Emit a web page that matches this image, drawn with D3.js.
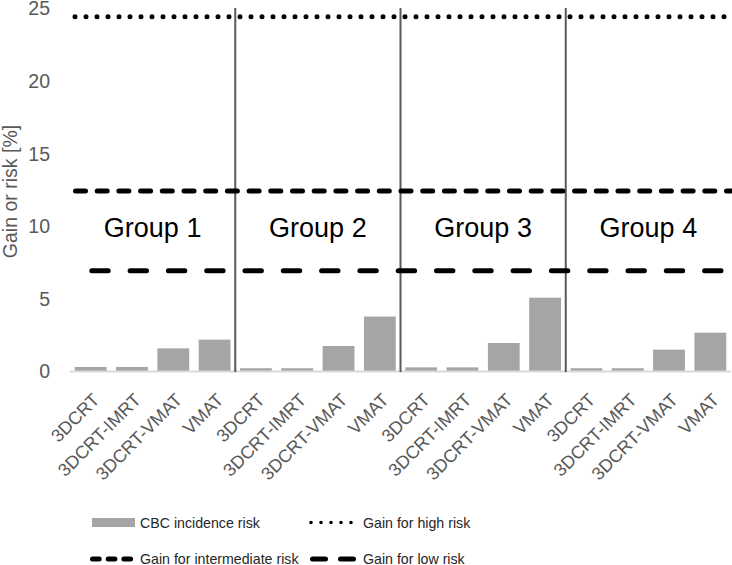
<!DOCTYPE html>
<html>
<head>
<meta charset="utf-8">
<script src="https://cdn.jsdelivr.net/npm/d3@7/dist/d3.min.js"></script>
<style>
  html, body { margin: 0; padding: 0; background: #fff; }
  svg { display: block; }
</style>
</head>
<body>
<svg id="chart" width="732" height="565"></svg>
<script>
// ---- data ----
const groups = ["Group 1", "Group 2", "Group 3", "Group 4"];
const techniques = ["3DCRT", "3DCRT-IMRT", "3DCRT-VMAT", "VMAT"];
const cbcGroup1 = [0.28, 0.28, 1.56, 2.16];
const cbcGroup2 = [0.19, 0.19, 1.72, 3.75];
const cbcGroup3 = [0.25, 0.25, 1.93, 5.05];
const cbcGroup4 = [0.19, 0.19, 1.47, 2.64];
const gainHigh = 24.4;
const gainIntermediate = 12.4;
const gainLow = 6.9;
const yTicks = [0, 5, 10, 15, 20, 25];
const legendLabels = ["CBC incidence risk", "Gain for high risk", "Gain for intermediate risk", "Gain for low risk"];

const cbcAll = [cbcGroup1, cbcGroup2, cbcGroup3, cbcGroup4];
const rows = [];
groups.forEach((g, gi) => techniques.forEach((t, ti) => rows.push({ key: g + "|" + t, group: g, tech: t, value: cbcAll[gi][ti] })));

// ---- layout ----
const svg = d3.select("#chart");
const plotLeft = 70, plotRight = 731, plotTop = 8, plotBottom = 371;

const x = d3.scaleBand().domain(rows.map(d => d.key)).range([plotLeft, plotRight]).paddingInner(0.23).paddingOuter(0.115);
const gx = d3.scaleBand().domain(groups).range([plotLeft, plotRight]);
const y = d3.scaleLinear().domain([0, 25]).range([plotBottom, plotTop]);

const grey = "#595959";
const font = "'Liberation Sans', Arial, sans-serif";

// y tick labels (no axis line)
const yAxis = d3.axisLeft(y).tickValues(yTicks).tickSize(0).tickPadding(0).tickFormat(d3.format("d"));
const yg = svg.append("g").attr("transform", "translate(50,0)").call(yAxis);
yg.select(".domain").remove();
yg.selectAll("text").attr("fill", grey).attr("font-family", font).attr("font-size", 19.5).attr("dy", "0.35em");

// y axis title
svg.append("text")
  .attr("transform", `translate(17,${(y(0) + y(25)) / 2 + 2}) rotate(-90)`)
  .attr("text-anchor", "middle")
  .attr("fill", grey)
  .attr("font-family", font)
  .attr("font-size", 19.5)
  .text("Gain or risk [%]");

// bars
svg.append("g").selectAll("rect").data(rows).join("rect")
  .attr("x", d => x(d.key))
  .attr("width", x.bandwidth())
  .attr("y", d => y(d.value))
  .attr("height", d => y(0) - y(d.value))
  .attr("fill", "#a5a5a5");

// baseline
svg.append("line").attr("x1", plotLeft).attr("x2", plotRight).attr("y1", y(0) + 0.5).attr("y2", y(0) + 0.5)
  .attr("stroke", "#d9d9d9").attr("stroke-width", 2);

// x tick labels
svg.append("g").selectAll("text").data(rows).join("text")
  .attr("transform", d => `translate(${x(d.key) + x.bandwidth() / 2 + 10},${y(0) + 30}) rotate(-45)`)
  .attr("text-anchor", "end")
  .attr("fill", grey)
  .attr("font-family", font)
  .attr("font-size", 18)
  .text(d => d.tech);

// group dividers
svg.append("g").selectAll("line").data(groups.slice(1)).join("line")
  .attr("x1", d => gx(d)).attr("x2", d => gx(d))
  .attr("y1", y(25)).attr("y2", y(0) + 1)
  .attr("stroke", grey).attr("stroke-width", 2);

// reference lines
const refLines = [
  { v: gainHigh, dash: "0 11", offset: 6, w: 5 },
  { v: gainIntermediate, dash: "10 11.7", offset: 16.2, w: 5 },
  { v: gainLow, dash: "16.4 21.9", offset: 16.5, w: 5 }
];
svg.append("g").selectAll("line").data(refLines).join("line")
  .attr("x1", plotLeft).attr("x2", plotRight)
  .attr("y1", d => y(d.v)).attr("y2", d => y(d.v))
  .attr("stroke", "#000").attr("stroke-width", d => d.w)
  .attr("stroke-linecap", "round")
  .attr("stroke-dasharray", d => d.dash)
  .attr("stroke-dashoffset", d => d.offset);

// group labels
svg.append("g").selectAll("text").data(groups).join("text")
  .attr("x", d => gx(d) + gx.bandwidth() / 2)
  .attr("y", y(9.25))
  .attr("text-anchor", "middle")
  .attr("fill", "#000")
  .attr("font-family", font)
  .attr("font-size", 27)
  .text(d => d);

// legend
const lg = svg.append("g").attr("font-family", font).attr("font-size", 14.2).attr("fill", "#262626");
// row 1
lg.append("rect").attr("x", 92).attr("y", 518).attr("width", 43).attr("height", 9).attr("fill", "#a5a5a5");
lg.append("text").attr("x", 140).attr("y", 527.5).text(legendLabels[0]);
lg.append("line").attr("x1", 311).attr("x2", 361).attr("y1", 522.5).attr("y2", 522.5)
  .attr("stroke", "#000").attr("stroke-width", 3.6).attr("stroke-linecap", "round").attr("stroke-dasharray", "0 10");
lg.append("text").attr("x", 363).attr("y", 527.5).text(legendLabels[1]);
// row 2
lg.append("line").attr("x1", 92.5).attr("x2", 131).attr("y1", 559).attr("y2", 559)
  .attr("stroke", "#000").attr("stroke-width", 5).attr("stroke-linecap", "round").attr("stroke-dasharray", "6.7 9");
lg.append("text").attr("x", 140).attr("y", 564).text(legendLabels[2]);
lg.append("line").attr("x1", 312.5).attr("x2", 358).attr("y1", 559).attr("y2", 559)
  .attr("stroke", "#000").attr("stroke-width", 5).attr("stroke-linecap", "round").attr("stroke-dasharray", "13 15");
lg.append("text").attr("x", 363).attr("y", 564).text(legendLabels[3]);
</script>
</body>
</html>
